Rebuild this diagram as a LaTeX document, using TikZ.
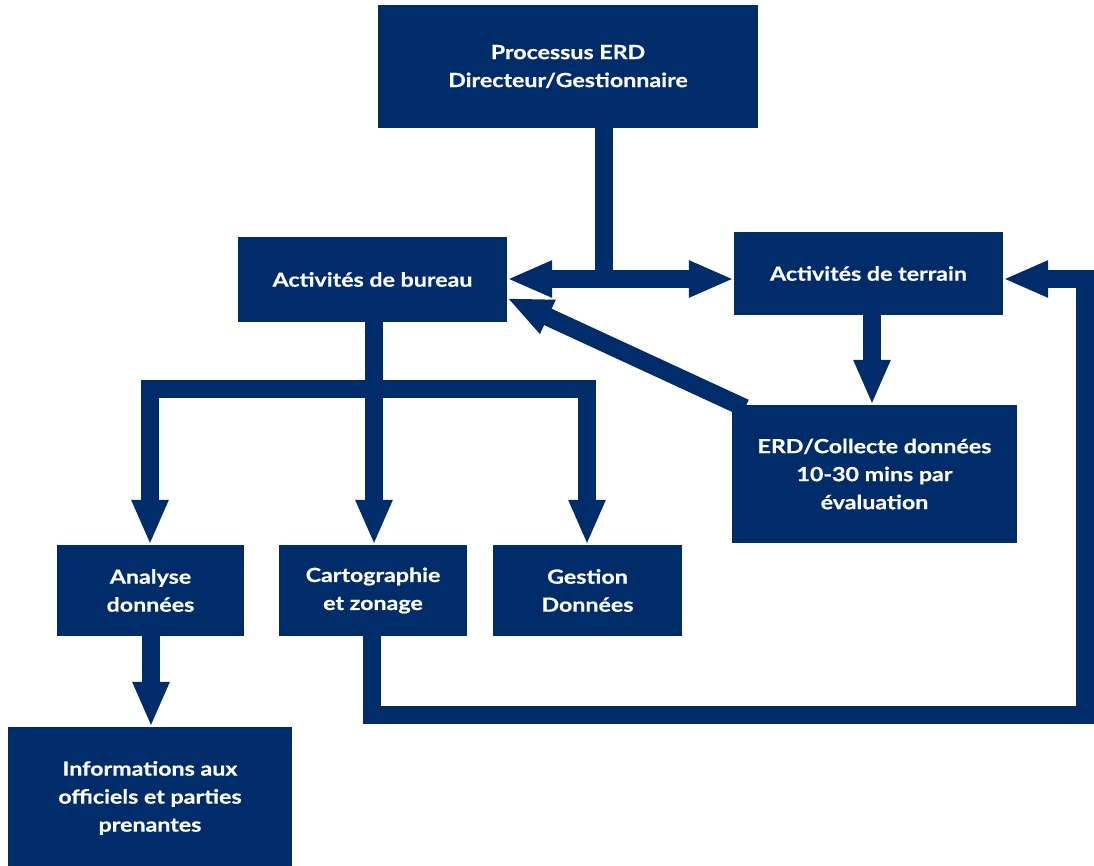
\documentclass[tikz,border=0pt]{standalone}
\usepackage{fontspec}
\setmainfont{Lato}[BoldFeatures={FakeStretch=1.19,FakeBold=0.6}]
\usetikzlibrary{arrows.meta}
\definecolor{navy}{RGB}{0,45,105}
\begin{document}
\begin{tikzpicture}[x=1pt,y=-1pt,
  box/.style={fill=navy,draw=none,text=white,align=center,inner sep=0pt,
    font=\fontsize{19.5}{28}\selectfont\bfseries},
  conn/.style={draw=navy,line width=18pt,line join=miter},
  arr/.style={conn,-{Triangle[width=34pt,length=45pt]}}]
\useasboundingbox (0,0) rectangle (1094,865);
\node[box,minimum width=380pt,minimum height=123pt] (top) at (568,66.5) {Processus ERD\\Directeur/Gestionnaire};
\node[box,minimum width=269pt,minimum height=85pt] (bureau) at (372.5,279.5) {Activités de bureau};
\node[box,minimum width=269pt,minimum height=83pt] (terrain) at (868.5,273.5) {Activités de terrain};
\node[box,minimum width=285pt,minimum height=138pt] (erd) at (874.5,474) {ERD/Collecte données\\10-30 mins par\\évaluation};
\node[box,minimum width=187pt,minimum height=91pt] (analyse) at (150.5,590.5) {Analyse\\données};
\node[box,minimum width=188pt,minimum height=91pt] (carto) at (373,590.5) {Cartographie\\et zonage};
\node[box,minimum width=189pt,minimum height=91pt] (gestion) at (587.5,590.5) {Gestion\\Données};
\node[box,minimum width=284pt,minimum height=142pt] (info) at (150,798) {Informations aux\\officiels et parties\\prenantes};
% top to both activities
\coordinate (hub) at (604,279);
\draw[conn] (top.south -| hub) -- (hub);
\draw[arr] (hub) -- (bureau.east |- hub);
\draw[arr] (hub) -- (terrain.west |- hub);
% terrain to erd
\draw[arr] (terrain.south -| 872,0) -- (erd.north -| 872,0);
% erd back to bureau
\coordinate (dstart) at (745,408);
\coordinate (dend) at (507,298);
\draw[arr] (dstart) -- (dend);
% tree
\coordinate (bar) at (374,389);
\draw[conn] (bureau.south -| bar) -- (bar);
\draw[arr] (bar) -| (analyse.north -| 150,0);
\draw[arr] (bar) -- (carto.north -| bar);
\draw[arr] (bar) -| (gestion.north -| 587,0);
% analyse to info
\draw[arr] (analyse.south -| 151,0) -- (info.north -| 151,0);
% loop from carto back to terrain
\coordinate (lb) at (372,715);
\coordinate (rc) at (1085,715);
\coordinate (rt) at (1085,279);
\draw[arr] (carto.south -| lb) -- (lb) -- (rc) -- (rt) -- (terrain.east |- rt);
\end{tikzpicture}
\end{document}
